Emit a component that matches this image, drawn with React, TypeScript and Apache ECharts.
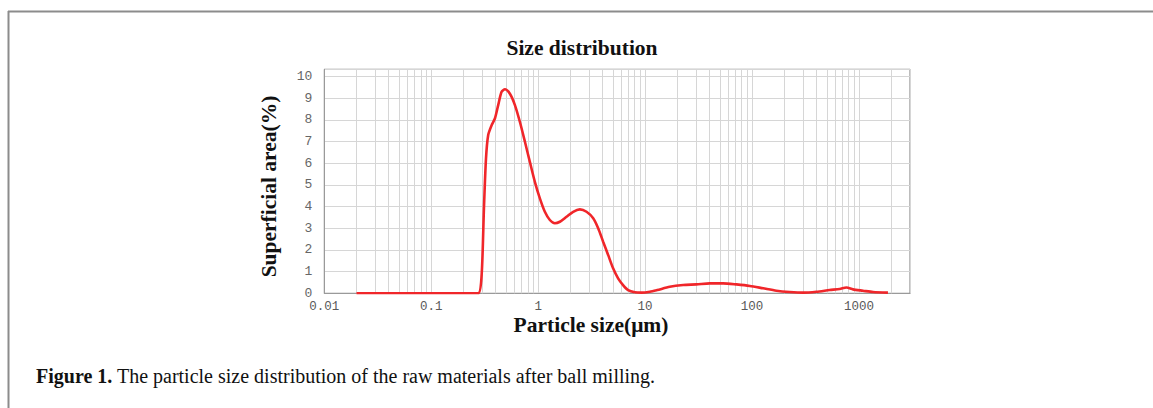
import React, { useEffect, useRef } from "react";
import * as echarts from "echarts";

const particleSizes = [
  0.02, 0.05, 0.1, 0.2, 0.275, 0.296, 0.311, 0.325, 0.341, 0.367, 0.394, 0.423,
  0.455, 0.489, 0.544, 0.606, 0.675, 0.751, 0.836, 0.931, 1.037, 1.155, 1.286,
  1.432, 1.595, 1.842, 2.125, 2.453, 2.833, 3.27, 3.64, 4.05, 4.51, 5.02, 5.59,
  6.22, 6.93, 8.01, 9.25, 11.07, 13, 17.0, 22.7, 30.2, 40.3, 53.6, 71.5, 95.3,
  127, 169, 225, 300, 400, 532, 661, 763, 879, 1090, 1352, 1866,
];
const superficialArea = [
  0, 0, 0, 0, 0, 0.84, 3.9, 6.2, 7.3, 7.75, 8.06, 8.68, 9.29, 9.41, 9.2, 8.68,
  7.9, 7.0, 6.06, 5.14, 4.38, 3.76, 3.38, 3.23, 3.3, 3.53, 3.76, 3.87, 3.76,
  3.46, 3.0, 2.38, 1.77, 1.15, 0.69, 0.38, 0.15, 0.05, 0.03, 0.07, 0.15, 0.3,
  0.38, 0.41, 0.46, 0.46, 0.41, 0.34, 0.23, 0.12, 0.06, 0.03, 0.07, 0.15, 0.2,
  0.27, 0.18, 0.12, 0.06, 0.03,
];
const xTickLabels: Record<string, string> = {
  "0.01": "0.01",
  "0.1": "0.1",
  "1": "1",
  "10": "10",
  "100": "100",
  "1000": "1000",
};
const decades = [0.01, 0.1, 1, 10, 100, 1000];
const minorMultipliers = [2, 3, 4, 5, 6, 7, 8, 9];

const chartTitle = "Size distribution";
const xTitle = "Particle size(\u03bcm)";
const yTitle = "Superficial area(%)";
const captionBold = "Figure 1.";
const captionText = " The particle size distribution of the raw materials after ball milling.";

const X_MIN = 0.01;
const X_MAX = 3000;

export default function App() {
  const ref = useRef<HTMLDivElement>(null);

  useEffect(() => {
    if (!ref.current) return;
    const chart = echarts.init(ref.current, undefined, { renderer: "svg" });

    const minorLines: { xAxis: number }[] = [];
    decades.forEach((d) => {
      minorMultipliers.forEach((m) => {
        const v = +(d * m).toPrecision(3);
        if (v < X_MAX) minorLines.push({ xAxis: v });
      });
    });

    const gridColor = "#d6d6d6";
    const serif = "'Liberation Serif', 'Times New Roman', serif";
    const mono = "'Liberation Mono', 'DejaVu Sans Mono', monospace";
    const titleSize = 21.5;

    chart.setOption({
      animation: false,
      backgroundColor: "#ffffff",
      grid: {
        left: 324.3,
        right: 243,
        top: 69.3,
        bottom: 114.7,
        show: true,
        borderColor: "#7a7a7a",
        borderWidth: 1,
        backgroundColor: "transparent",
      },
      xAxis: {
        type: "log",
        logBase: 10,
        min: X_MIN,
        max: X_MAX,
        axisLine: { show: true, lineStyle: { color: "#9a9a9a", width: 1 } },
        axisTick: { show: false },
        splitLine: { show: true, lineStyle: { color: gridColor, width: 1 } },
        axisLabel: {
          color: "#5a5a5a",
          fontFamily: mono,
          fontSize: 12.5,
          margin: 7,
          showMaxLabel: false,
          formatter: (v: number) => {
            const key = String(+v.toPrecision(3));
            return xTickLabels[key] ?? "";
          },
        },
      },
      yAxis: {
        type: "value",
        min: 0,
        max: 10.33,
        interval: 1,
        axisLine: { show: true, lineStyle: { color: "#9a9a9a", width: 1 } },
        axisTick: { show: false },
        splitLine: { show: true, lineStyle: { color: gridColor, width: 1 } },
        axisLabel: {
          color: "#666",
          fontFamily: mono,
          fontSize: 13,
          margin: 12,
          formatter: (v: number) => (Math.abs(v - Math.round(v)) < 1e-6 ? String(Math.round(v)) : ""),
        },
      },
      series: [
        {
          type: "line",
          data: particleSizes.map((s, i) => [s, superficialArea[i]]),
          smooth: 0.25,
          symbol: "none",
          lineStyle: { color: "#f0262a", width: 2.6 },
          z: 5,
          markLine: {
            silent: true,
            symbol: "none",
            label: { show: false },
            lineStyle: { color: gridColor, width: 1, type: "solid" },
            data: minorLines,
            z: 1,
          },
        },
      ],
      graphic: [
        {
          type: "line",
          shape: { x1: 8, y1: 11.5, x2: 1153, y2: 11.5 },
          style: { stroke: "#8c8c8c", lineWidth: 2 },
        },
        {
          type: "line",
          shape: { x1: 8.5, y1: 11, x2: 8.5, y2: 408 },
          style: { stroke: "#8c8c8c", lineWidth: 2 },
        },
        {
          type: "text",
          x: 582,
          y: 48,
          style: {
            text: chartTitle,
            fontFamily: serif,
            fontWeight: "bold",
            fontSize: titleSize,
            fill: "#111",
            align: "center",
            verticalAlign: "middle",
          },
        },
        {
          type: "text",
          x: 591,
          y: 325,
          style: {
            text: xTitle,
            fontFamily: serif,
            fontWeight: "bold",
            fontSize: titleSize,
            fill: "#111",
            align: "center",
            verticalAlign: "middle",
          },
        },
        {
          type: "text",
          x: 269,
          y: 186.5,
          rotation: Math.PI / 2,
          style: {
            text: yTitle,
            fontFamily: serif,
            fontWeight: "bold",
            fontSize: titleSize,
            fill: "#111",
            align: "center",
            verticalAlign: "middle",
          },
        },
        {
          type: "text",
          x: 36,
          y: 376,
          style: {
            text: "{b|" + captionBold + "}{r|" + captionText + "}",
            fontFamily: serif,
            fontSize: 20,
            fill: "#111",
            verticalAlign: "middle",
            rich: {
              b: { fontFamily: serif, fontSize: 20, fontWeight: "bold", fill: "#111" },
              r: { fontFamily: serif, fontSize: 20, fill: "#111" },
            },
          },
        },
      ],
    });

    return () => chart.dispose();
  }, []);

  return (
    <div
      ref={ref}
      style={{ position: "fixed", left: 0, top: 0, width: 1153, height: 408, background: "#fff" }}
    />
  );
}
